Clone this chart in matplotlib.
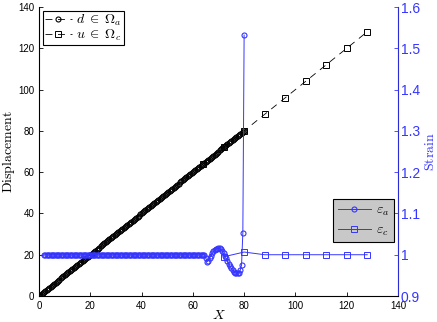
import numpy as np
import matplotlib
matplotlib.use('Agg')
import matplotlib.pyplot as plt
from matplotlib.ticker import FormatStrFormatter

plt.rcParams['mathtext.fontset'] = 'cm'
plt.rcParams['font.family'] = ['Liberation Sans', 'DejaVu Sans']
plt.rcParams['lines.scale_dashes'] = False

BLUE = '#3535ff'

# atomistic region: atom positions and displacements
x_atom = np.arange(0.0, 80.5, 0.5)
d_atom = [
    0.0, 0.5, 1.0, 1.5, 2.0, 2.5, 3.0, 3.5, 4.0, 4.5, 5.0, 5.5, 6.0, 6.5, 7.0, 7.5,
    8.0, 8.5, 9.0, 9.5, 10.0, 10.5, 11.0, 11.5, 12.0, 12.5, 13.0, 13.5, 14.0, 14.5,
    15.0, 15.5, 16.0, 16.5, 17.0, 17.5, 18.0, 18.5, 19.0, 19.5, 20.0, 20.5, 21.0,
    21.5, 22.0, 22.5, 23.0, 23.5, 24.0, 24.5, 25.0, 25.5, 26.0, 26.5, 27.0, 27.5,
    28.0, 28.5, 29.0, 29.5, 30.0, 30.5, 31.0, 31.5, 32.0, 32.5, 33.0, 33.5, 34.0,
    34.5, 35.0, 35.5, 36.0, 36.5, 37.0, 37.5, 38.0, 38.5, 39.0, 39.5, 40.0, 40.5,
    41.0, 41.5, 42.0, 42.5, 43.0, 43.5, 44.0, 44.5, 45.0, 45.5, 46.0, 46.5, 47.0,
    47.5, 48.0, 48.5, 49.0, 49.5, 50.0, 50.5, 51.0, 51.5, 52.0, 52.5, 53.0, 53.5,
    54.0, 54.5, 55.0, 55.5, 56.0, 56.5, 57.0, 57.5, 58.0, 58.5, 59.0, 59.5, 60.0,
    60.5, 61.0, 61.5, 62.0, 62.5, 63.0, 63.5, 64.0, 64.5, 65.0, 65.5, 66.0, 66.5,
    67.0, 67.5, 68.0, 68.5, 69.0, 69.5, 70.0, 70.5, 71.0, 71.5, 72.0, 72.5, 73.0,
    73.5, 74.0, 74.5, 75.0, 75.5, 76.0, 76.5, 77.0, 77.5, 78.0, 78.5, 79.0, 79.5, 80.0,
]

# continuum nodes and displacements
x_cont = [64, 72, 80, 88, 96, 104, 112, 120, 128]
u_cont = [64, 72, 80, 88, 96, 104, 112, 120, 128]

# atomistic strain
x_eps_a = np.arange(2.0, 80.5, 0.5)
eps_a_flat = [1.0] * 126  # x = 2.0 ... 64.5
eps_a_tail = [  # x = 65.0 ... 80.0
    0.993, 0.983, 0.985, 0.991, 0.997, 1.003, 1.008, 1.011, 1.013, 1.015,
    1.0155, 1.0155, 1.013, 1.009, 1.003, 0.997, 0.991, 0.984, 0.978, 0.972,
    0.967, 0.963, 0.959, 0.956, 0.955, 0.955, 0.956, 0.963, 0.975, 1.053, 1.532,
]
eps_a = eps_a_flat + eps_a_tail

# continuum strain
x_eps_c = [72, 80, 88, 96, 104, 112, 120, 128]
eps_c = [0.995, 1.0065, 1.0, 1.0, 1.0, 1.0, 1.0, 1.0]

fig = plt.figure(figsize=(4.37, 3.22), dpi=100)
ax = fig.add_axes([0.0892, 0.0807, 0.8215, 0.8975])

ax.plot(x_atom, d_atom, color='black', linestyle='--', dashes=(5, 4), lw=0.6,
        marker='o', ms=3.6, mfc='none', mec='black', mew=0.8,
        label=r'$d\;\in\;\Omega_a$')
ax.plot(x_cont, u_cont, color='black', linestyle='--', dashes=(5, 4), lw=0.6,
        marker='s', ms=4.5, mfc='none', mec='black', mew=0.7,
        label=r'$u\;\in\;\Omega_c$')

ax.set_xlim(0, 140)
ax.set_ylim(0, 140)
ax.set_xticks(np.arange(0, 141, 20))
ax.set_yticks(np.arange(0, 141, 20))
ax.tick_params(direction='in', length=3, width=0.6, labelsize=7)
ax.spines['top'].set_visible(False)
for s in ['left', 'bottom']:
    ax.spines[s].set_linewidth(0.6)
ax.set_xlabel(r'$X$', fontsize=10, labelpad=-2)
ax.set_ylabel(r'$\mathrm{Displacement}$', fontsize=10)
ax.yaxis.set_label_coords(-0.06, 0.5)

leg1 = ax.legend(loc='upper left', bbox_to_anchor=(0.0, 1.0), fontsize=10,
                 frameon=True, fancybox=False, edgecolor='black', framealpha=1,
                 handlelength=2.0, handletextpad=0.3, borderpad=0.1,
                 labelspacing=0.0, borderaxespad=0.3)
leg1.get_frame().set_linewidth(0.8)

ax2 = ax.twinx()
ax2.plot(x_eps_a, eps_a, color=BLUE, lw=0.7, marker='o', ms=3.6, mfc='none',
         mec=BLUE, mew=0.8, label=r'$\varepsilon_a$')
ax2.plot(x_eps_c, eps_c, color=BLUE, lw=0.7, marker='s', ms=4.5, mfc='none',
         mec=BLUE, mew=0.7, label=r'$\varepsilon_c$')
ax2.set_ylim(0.9, 1.6)
ax2.set_yticks(np.arange(0.9, 1.61, 0.1))
ax2.yaxis.set_major_formatter(FormatStrFormatter('%g'))
ax2.tick_params(axis='y', direction='in', length=3, width=0.6, labelsize=10,
                colors=BLUE, pad=2)
ax2.spines['top'].set_visible(False)
ax2.spines['right'].set_color(BLUE)
ax2.spines['right'].set_linewidth(0.6)
ax2.set_ylabel(r'$\mathrm{Strain}$', fontsize=10, color=BLUE, labelpad=2)

leg2 = ax2.legend(loc='upper right', bbox_to_anchor=(0.989, 0.336), fontsize=10,
                  frameon=True, fancybox=False, edgecolor='black', framealpha=1,
                  facecolor='#c8c8c8', handlelength=2.4, handletextpad=0.4,
                  borderpad=0.3, labelspacing=0.3, borderaxespad=0)
leg2.get_frame().set_linewidth(0.8)

fig.savefig('out.png', dpi=100)
